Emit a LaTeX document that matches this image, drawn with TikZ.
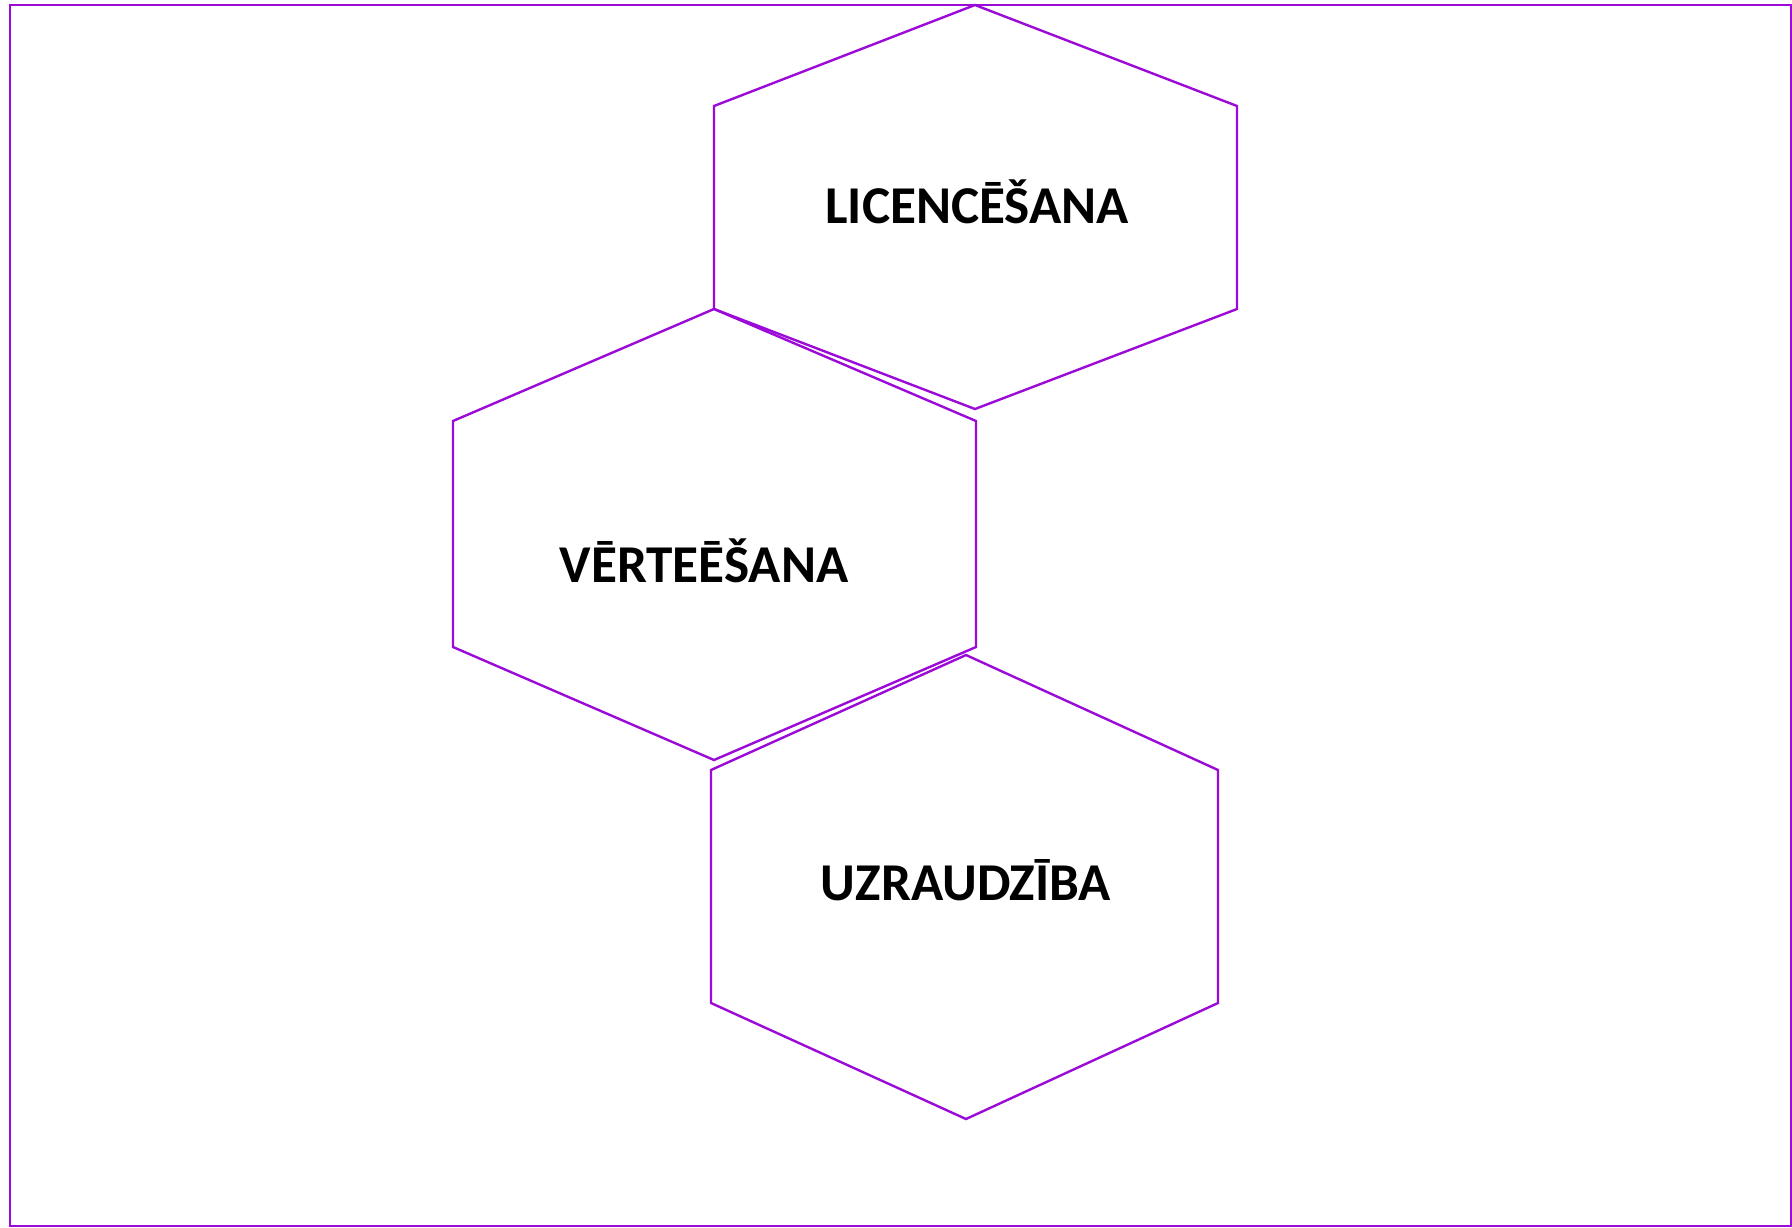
\documentclass[tikz,border=0pt]{standalone}
\usepackage{fontspec}
\setmainfont{Carlito}
\usepackage{xcolor}
\usepackage{tikz}
\usetikzlibrary{positioning}

\definecolor{hexpurple}{RGB}{155,10,215}

\begin{document}
\begin{tikzpicture}[
  x=0.5pt, y=-0.5pt,
  cell/.style={draw=hexpurple, line width=1.2pt, line join=miter},
  frame/.style={draw=hexpurple, line width=1.1pt},
  lbl/.style={font=\fontsize{26.6}{31}\selectfont\bfseries, text=black,
              inner sep=0pt, anchor=base}
]
  \useasboundingbox (0,0) rectangle (1792,1227);
  \draw[frame] (10,5) rectangle (1791,1226);

  \draw[cell] (975,5) -- (1237,106) -- (1237,309) -- (975,409)
              -- (714,309) -- (714,106) -- cycle;
  \draw[cell] (714,309) -- (976,421) -- (976,647) -- (714,760)
              -- (453,647) -- (453,421) -- cycle;
  \draw[cell] (966,655) -- (1218,770) -- (1218,1003) -- (966,1119)
              -- (711,1003) -- (711,770) -- cycle;

  \node[lbl] (Licence) at (977,223) {LICENCĒŠANA};
  \node[lbl] (Vertes) at (704,582) {VĒRTEĒŠANA};
  \node[lbl] (Uzraud) at (966,900) {UZRAUDZĪBA};
\end{tikzpicture}
\end{document}
